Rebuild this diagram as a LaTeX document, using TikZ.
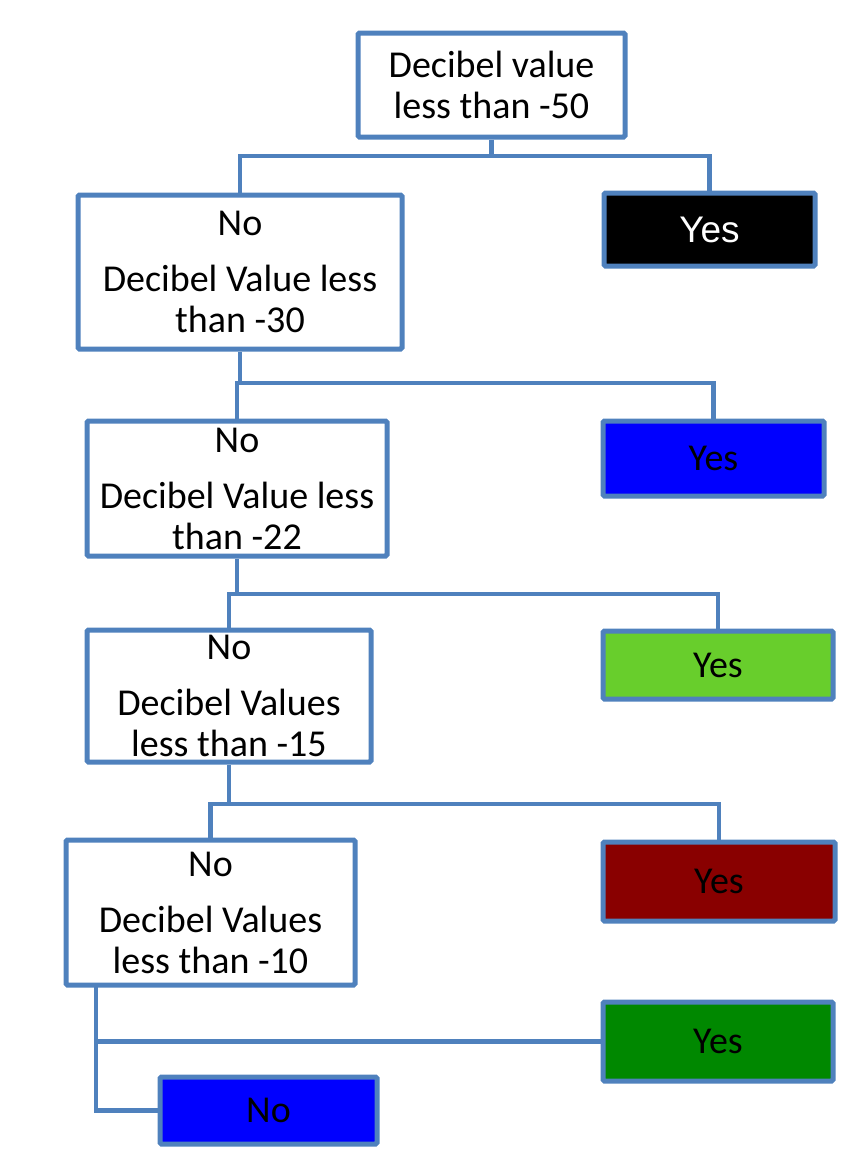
\documentclass[tikz,border=0pt]{standalone}
\usepackage{fontspec}
\setmainfont{Carlito}
\newfontfamily\arialfont{Liberation Sans}
\definecolor{edgeblue}{RGB}{79,129,189}
\definecolor{yesblue}{RGB}{0,0,255}
\definecolor{yeslime}{RGB}{104,206,44}
\definecolor{yesmaroon}{RGB}{137,0,0}
\definecolor{yesgreen}{RGB}{0,136,0}

\begin{document}
\begin{tikzpicture}[x = 1pt, y = -1pt,
	qbox/.style = {draw = edgeblue, line width = 5pt, rounded corners = 1.5pt, fill = white, align = center, inner sep = 0pt, font = \fontsize{38}{41}\selectfont},
	ansbox/.style = {draw = edgeblue, line width = 5pt, rounded corners = 1.5pt, inner sep = 0pt, font = \fontsize{38}{41}\selectfont},
	link/.style = {draw = edgeblue, line width = 4.5pt}]
	\useasboundingbox (0, 0) rectangle (865, 1154);
	
	\node[qbox, minimum width = 267pt, minimum height = 104pt] (q50) at (491.5, 85) {Decibel value\\ less than -50};
	\node[qbox, minimum width = 324pt, minimum height = 154pt] (q30) at (240, 272) {No\\[15pt] Decibel Value less\\ than -30};
	\node[qbox, minimum width = 300pt, minimum height = 135pt] (q22) at (237, 488.5) {No\\[15pt] Decibel Value less\\ than -22};
	\node[qbox, minimum width = 284pt, minimum height = 132pt] (q15) at (229, 696) {No\\[15pt] Decibel Values\\ less than -15};
	\node[qbox, minimum width = 289pt, minimum height = 145pt] (q10) at (210.5, 912.5) {No\\[15pt] Decibel Values\\ less than -10};
	
	\node[ansbox, fill = black, text = white, minimum width = 211pt, minimum height = 73pt, font = \arialfont\fontsize{37}{40}\selectfont] (yes50) at (709.5, 229.5) {Yes};
	\node[ansbox, fill = yesblue, minimum width = 221pt, minimum height = 75pt] (yes30) at (713.5, 458.5) {Yes};
	\node[ansbox, fill = yeslime, minimum width = 230pt, minimum height = 68pt] (yes22) at (718, 665) {Yes};
	\node[ansbox, fill = yesmaroon, minimum width = 232pt, minimum height = 79pt] (yes15) at (719, 881.5) {Yes};
	\node[ansbox, fill = yesgreen, minimum width = 230pt, minimum height = 79pt] (yes10) at (718, 1041.5) {Yes};
	\node[ansbox, fill = yesblue, minimum width = 217pt, minimum height = 67pt] (no10) at (268.5, 1110.5) {No};
	
	\coordinate (j50) at (491.5, 156);
	\coordinate (j30) at (240, 383);
	\coordinate (j22) at (237, 594);
	\coordinate (j15) at (229, 804);
	\coordinate (j10) at (96, 985);
	
	\draw[link] (q50.south) -- (j50) -| (q30.north);
	\draw[link] (j50) -| (yes50.north);
	\draw[link] (q30.south) -- (j30) -| (q22.north);
	\draw[link] (j30) -| (yes30.north);
	\draw[link] (q22.south) -- (j22) -| (q15.north);
	\draw[link] (j22) -| (yes22.north);
	\draw[link] (q15.south) -- (j15) -| (q10.north);
	\draw[link] (j15) -| (yes15.north);
	\draw[link] (j10) |- (yes10.west);
	\draw[link] (j10) |- (no10.west);
\end{tikzpicture}
\end{document}
